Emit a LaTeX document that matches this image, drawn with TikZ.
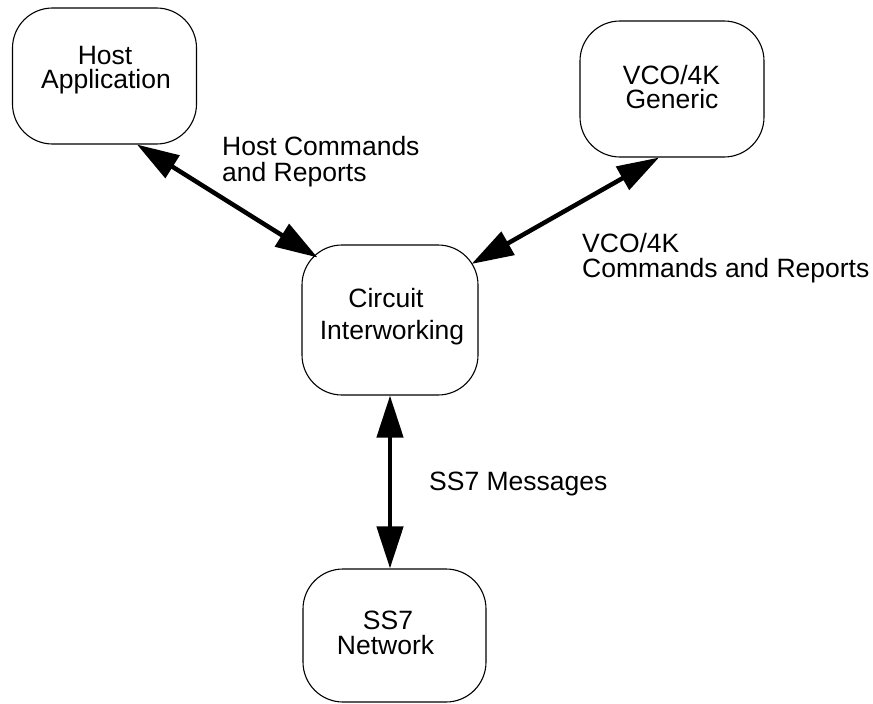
\documentclass[tikz,border=0pt]{standalone}
\usepackage{fontspec}
\setmainfont{Liberation Sans}
\usetikzlibrary{arrows.meta,calc}
\begin{document}
\begin{tikzpicture}[x=1pt,y=-1pt,
  blk/.style={draw=black,line width=1.1pt,rounded corners=40pt,inner sep=0pt},
  txt/.style={anchor=base,inner sep=0pt,font=\fontsize{26.5}{26.5}\selectfont},
  lbl/.style={anchor=base west,inner sep=0pt,font=\fontsize{26.5}{26.5}\selectfont},
  link/.style={line width=4.5pt,{Triangle[length=42pt,width=26pt]}-{Triangle[length=42pt,width=26pt]}}]
\useasboundingbox (0,0) rectangle (873,704);
% boxes
\node[blk,minimum width=184pt,minimum height=136pt] (host) at (104.5,76) {};
\node[blk,minimum width=184pt,minimum height=136pt] (vco) at (672,89) {};
\node[blk,minimum width=176pt,minimum height=150pt] (ci) at (390,320) {};
\node[blk,minimum width=183pt,minimum height=133pt] (ss7) at (394.5,635.5) {};
% box texts
\node[txt] (hostA) at (105,64) {Host};
\node[txt] (hostB) at (106,88) {Application};
\node[txt] (vcoA) at (671.5,84) {VCO/4K};
\node[txt] (vcoB) at (672,108) {Generic};
\node[txt] (ciA) at (386,307) {Circuit};
\node[txt] (ciB) at (392,339) {Interworking};
\node[txt] (ssA) at (388,629) {SS7};
\node[txt] (ssB) at (385.5,654) {Network};
% connectors
\draw[link] ($(host.south)+(32.5,0)$) -- ($(ci.north west)+(16,13)$);
\draw[link] ($(vco.south)+(-13,0)$) -- ($(ci.north east)+(-7,19.5)$);
\draw[link] (ci.south) -- (ci.south |- ss7.north);
% connector labels
\node[lbl] (l1a) at (222,155) {Host Commands};
\node[lbl] (l1b) at (222,181) {and Reports};
\node[lbl] (l2a) at (582,252) {VCO/4K};
\node[lbl] (l2b) at (582,277) {Commands and Reports};
\node[lbl] (l3) at (429,490) {SS7 Messages};
\end{tikzpicture}
\end{document}
